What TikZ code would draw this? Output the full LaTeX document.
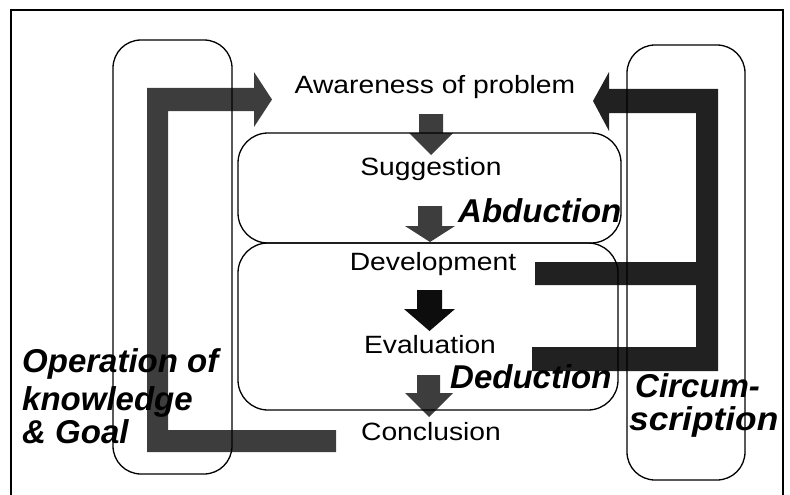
\documentclass[tikz,border=0pt]{standalone}
\usepackage{fontspec}
\setmainfont{Liberation Sans}
\begin{document}
\begin{tikzpicture}[x=1pt,y=-1pt,
  frameline/.style={line width=1.4pt,black},
  roundbox/.style={draw=black,line width=1.3pt,rounded corners=30pt},
  tallbox/.style={draw=black,line width=1.3pt,rounded corners=28pt},
  leftbar/.style={fill=black!76},
  rightbar/.style={fill=black!87},
  smallarrow/.style={fill=black!76},
  darkarrow/.style={fill=black!95},
  steptext/.style={font=\fontsize{25}{30}\selectfont,inner sep=0pt,anchor=base,xscale=1.13,transform shape},
  methodtext/.style={font=\fontsize{33}{36}\selectfont\bfseries\itshape,inner sep=0pt,anchor=base west}
]
\useasboundingbox (0,0) rectangle (790,495);
% outer frame
\draw[frameline] (11,495) -- (11,10) -- (783,10) -- (783,495);
% left bracket arrow
\path[leftbar] (147,88) -- (254,88) -- (254,72) -- (272,99.5) -- (254,127) -- (254,111)
  -- (168,111) -- (168,430) -- (336,430) -- (336,452) -- (147,452) -- cycle;
% right bracket arrow
\path[rightbar] (593,101) -- (609,72) -- (609,89) -- (718,89) -- (718,371) -- (532,371)
  -- (532,347) -- (696,347) -- (696,285) -- (535,285) -- (535,262) -- (696,262)
  -- (696,113) -- (609,113) -- (609,131) -- cycle;
% small down arrows
\path[smallarrow] (419,114) -- (443,114) -- (443,133) -- (453,133) -- (431,155) -- (409,133) -- (419,133) -- cycle;
\path[smallarrow] (418,206) -- (442,206) -- (442,226) -- (455,226) -- (430,242) -- (405,226) -- (418,226) -- cycle;
\path[darkarrow] (417,290) -- (442,290) -- (442,309) -- (455,309) -- (429.5,331) -- (404,309) -- (417,309) -- cycle;
\path[smallarrow] (417,375) -- (440,375) -- (440,393) -- (453,393) -- (429,417) -- (405,393) -- (417,393) -- cycle;
% rounded boxes
\draw[tallbox] (113,40) rectangle (232,474);
\draw[tallbox] (627,45) rectangle (745,480);
\draw[roundbox] (238,133) rectangle (621,243);
\draw[roundbox] (238,243) rectangle (618,410);
% step texts
\node[steptext] (aw) at (435,93) {Awareness of problem};
\node[steptext] (sug) at (431,175) {Suggestion};
\node[steptext] (dev) at (433,270) {Development};
\node[steptext] (eva) at (430,353) {Evaluation};
\node[steptext] (con) at (431,440) {Conclusion};
% method texts
\node[methodtext] (abd) at (458,222) {Abduction};
\node[methodtext] (ded) at (450,388) {Deduction};
\node[methodtext] (op1) at (22,372) {Operation of};
\node[methodtext] (op2) at (22,410) {knowledge};
\node[methodtext] (op3) at (22,443) {\& Goal};
\node[methodtext] (cir1) at (635,397) {Circum-};
\node[methodtext,xscale=1.07,transform shape] (cir2) at (629,430) {scription};
\end{tikzpicture}
\end{document}
